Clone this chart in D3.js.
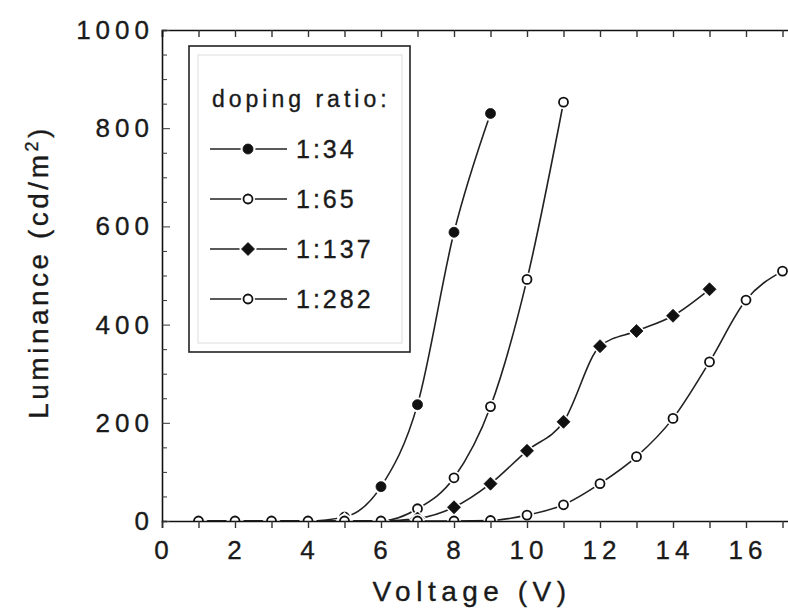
<!DOCTYPE html>
<html>
<head>
<meta charset="utf-8">
<script src="https://cdn.jsdelivr.net/npm/d3@7"></script>
<style>
  body { margin: 0; background: #fff; }
  text { font-family: "Liberation Sans", Arial, sans-serif; fill: #1a1a1a; stroke: #1a1a1a; stroke-width: 0.35px; }
</style>
</head>
<body>
<div id="chart"></div>
<script>

// Voltage steps (V)
var volt34 = [1, 2, 3, 4, 5, 6, 7, 8, 9];
var volt65 = [1, 2, 3, 4, 5, 6, 7, 8, 9, 10, 11];
var volt137 = [1, 2, 3, 4, 5, 6, 7, 8, 9, 10, 11, 12, 13, 14, 15];
var volt282 = [1, 2, 3, 4, 5, 6, 7, 8, 9, 10, 11, 12, 13, 14, 15, 16, 17];

// Luminance (cd/m2)
var lum34 = [0, 0, 0, 0, 8, 70, 237, 588, 830];
var lum65 = [0, 0, 0, 0, 0, 0, 25, 88, 233, 492, 853];
var lum137 = [0, 0, 0, 0, 0, 0, 5, 28, 76, 143, 202, 356, 387, 418, 472];
var lum282 = [0, 0, 0, 0, 0, 0, 0, 0, 1, 12, 33, 76, 131, 209, 324, 450, 509];

var seriesNames = ["1:34", "1:65", "1:137", "1:282"];
var xTicks = [0, 2, 4, 6, 8, 10, 12, 14, 16];
var yTicks = [0, 200, 400, 600, 800, 1000];

var series = [
  { name: seriesNames[0], x: volt34, y: lum34, shape: "circle", filled: true },
  { name: seriesNames[1], x: volt65, y: lum65, shape: "circle", filled: false },
  { name: seriesNames[2], x: volt137, y: lum137, shape: "diamond", filled: true },
  { name: seriesNames[3], x: volt282, y: lum282, shape: "circle", filled: false }
];

var W = 788, H = 610;
var pLeft = 162, pTop = 30, pBottom = 521;

var svg = d3.select("#chart")
  .append("svg")
  .attr("width", W)
  .attr("height", H);

// Scales (plot runs past the right edge of the picture)
var x = d3.scaleLinear().domain([0, 18]).range([pLeft, pLeft + 18 * 36.5]);
var y = d3.scaleLinear().domain([0, 1000]).range([pBottom, pTop]);

svg.append("defs").append("clipPath")
  .attr("id", "plotclip")
  .append("rect")
  .attr("x", pLeft).attr("y", pTop)
  .attr("width", W - pLeft).attr("height", pBottom - pTop);

var plot = svg.append("g").attr("clip-path", "url(#plotclip)");

var line = d3.line()
  .x(function (d) { return x(d[0]); })
  .y(function (d) { return y(d[1]); })
  .curve(d3.curveMonotoneX);

function markerPath(shape, r) {
  if (shape === "diamond") {
    return "M0," + (-r) + "L" + r + ",0L0," + r + "L" + (-r) + ",0Z";
  }
  return d3.symbol().type(d3.symbolCircle).size(Math.PI * r * r)();
}

function drawMarker(g, s, cx, cy) {
  var r = s.shape === "diamond" ? 6.5 : (s.filled ? 5 : 4.5);
  // white halo so the line stops short of the marker
  g.append("path")
    .attr("d", markerPath(s.shape, r + 2.5))
    .attr("transform", "translate(" + cx + "," + cy + ")")
    .attr("fill", "#fff");
  g.append("path")
    .attr("d", markerPath(s.shape, r))
    .attr("transform", "translate(" + cx + "," + cy + ")")
    .attr("fill", s.filled ? "#111" : "#fff")
    .attr("stroke", "#111")
    .attr("stroke-width", s.filled ? 0.8 : 1.8);
}

// Lines first, then markers on top
series.forEach(function (s) {
  var pts = s.x.map(function (v, i) { return [v, s.y[i]]; });
  plot.append("path")
    .datum(pts)
    .attr("d", line)
    .attr("fill", "none")
    .attr("stroke", "#222")
    .attr("stroke-width", 1.6);
});
series.forEach(function (s) {
  s.x.forEach(function (v, i) {
    drawMarker(plot, s, x(v), y(s.y[i]));
  });
});

// Bottom axis, ticks pointing down
svg.append("g")
  .attr("transform", "translate(0," + pBottom + ")")
  .call(d3.axisBottom(x).tickValues(d3.range(0, 18)).tickSize(7).tickFormat(""))
  .call(function (g) { g.select(".domain").attr("stroke-width", 1.6).attr("stroke", "#111"); })
  .call(function (g) { g.selectAll(".tick line").attr("stroke-width", 1.4).attr("stroke", "#333"); });

svg.append("g").selectAll("text")
  .data(xTicks)
  .enter()
  .append("text")
  .attr("x", function (d) { return x(d) + 2; })
  .attr("y", 559)
  .attr("text-anchor", "middle")
  .style("font-size", "26px")
  .style("letter-spacing", "5px")
  .text(function (d) { return d; });

// Top axis, ticks pointing in
svg.append("g")
  .attr("transform", "translate(0," + pTop + ")")
  .call(d3.axisTop(x).tickValues(d3.range(0, 18)).tickSize(-7).tickFormat(""))
  .call(function (g) { g.select(".domain").attr("stroke-width", 1.6).attr("stroke", "#111"); })
  .call(function (g) { g.selectAll(".tick line").attr("stroke-width", 1.4).attr("stroke", "#333"); });

// Left axis, ticks pointing in
svg.append("g")
  .attr("transform", "translate(" + pLeft + ",0)")
  .call(d3.axisLeft(y).tickValues(d3.range(0, 1001, 50)).tickSizeOuter(0)
    .tickSize(-5).tickFormat(""))
  .call(function (g) { g.select(".domain").attr("stroke-width", 1.6).attr("stroke", "#111"); })
  .call(function (g) {
    g.selectAll(".tick line")
      .attr("stroke", "#333")
      .attr("x2", function (d) { return d % 200 === 0 ? 8 : 5; });
  });

svg.append("g").selectAll("text")
  .data(yTicks)
  .enter()
  .append("text")
  .attr("x", 154)
  .attr("y", function (d) { return y(d) + 9; })
  .attr("text-anchor", "end")
  .style("font-size", "26px")
  .style("letter-spacing", "5px")
  .text(function (d) { return d; });

// Axis titles
svg.append("text")
  .attr("x", 472)
  .attr("y", 601)
  .attr("text-anchor", "middle")
  .style("font-size", "28px")
  .style("letter-spacing", "5.5px")
  .text("Voltage (V)");

var yt = svg.append("text")
  .attr("transform", "translate(48," + 272 + ") rotate(-90)")
  .attr("text-anchor", "middle")
  .style("font-size", "28px")
  .style("letter-spacing", "3.5px");
yt.append("tspan").text("Luminance (cd/m");
yt.append("tspan").attr("baseline-shift", "super").style("font-size", "18px").text("2");
yt.append("tspan").text(")");

// Legend
var lg = svg.append("g");
lg.append("rect")
  .attr("x", 198).attr("y", 55).attr("width", 204).attr("height", 288)
  .attr("fill", "none").attr("stroke", "#ddd").attr("stroke-width", 1);
lg.append("rect")
  .attr("x", 189).attr("y", 46).attr("width", 221).attr("height", 306)
  .attr("fill", "none").attr("stroke", "#222").attr("stroke-width", 1.6);
lg.append("text")
  .attr("x", 212).attr("y", 107)
  .style("font-size", "23px")
  .style("letter-spacing", "4px")
  .text("doping ratio:");

series.forEach(function (s, i) {
  var cy = 149 + i * 50;
  lg.append("line")
    .attr("x1", 210).attr("x2", 287)
    .attr("y1", cy).attr("y2", cy)
    .attr("stroke", "#222").attr("stroke-width", 1.6);
  drawMarker(lg, s, 248, cy);
  lg.append("text")
    .attr("x", 296).attr("y", cy + 9)
    .style("font-size", "25px")
    .style("letter-spacing", "3px")
    .text(s.name);
});

</script>
</body>
</html>
